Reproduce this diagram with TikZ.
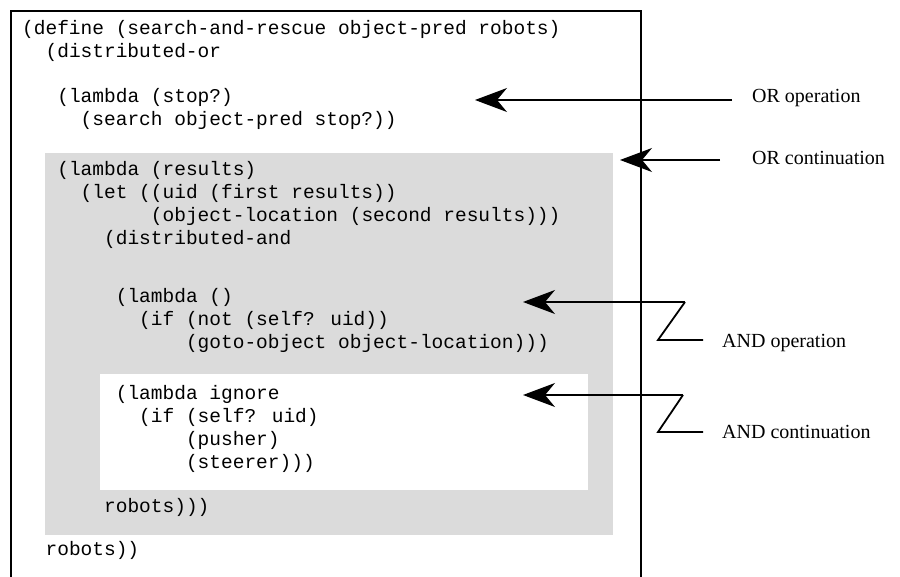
\documentclass[tikz,border=0pt]{standalone}
\usepackage{fontspec}
\setmainfont{Liberation Serif}
\newfontfamily\codefont{Liberation Mono}
\usetikzlibrary{arrows.meta}
\begin{document}
\begin{tikzpicture}[x=1pt,y=-1pt,
  code/.style={anchor=mid west,inner sep=0pt,font=\codefont\fontsize{19.5}{23}\selectfont},
  lbl/.style={anchor=mid west,inner sep=0pt,font=\fontsize{20}{24}\selectfont},
  bigarrow/.style={line width=1.2pt,-{Stealth[length=32pt,width=24pt,inset=10pt]}},
  zline/.style={line width=1.8pt},
  frame/.style={line width=2pt}]
\useasboundingbox (0,0) rectangle (900,577);
% shaded OR-continuation region and white AND-continuation region
\fill[black!14] (45,153) rectangle (613,535);
\fill[white] (100,374) rectangle (588,490);
% code
\node[code] (l1) at (22,32) {(define (search-and-rescue object-pred robots)};
\node[code] (l2) at (45.4,55) {(distributed-or};
\node[code] (l3) at (57.1,100) {(lambda (stop?)};
\node[code] (l4) at (80.5,123) {(search object-pred stop?))};
\node[code] (l5) at (57.1,173) {(lambda (results)};
\node[code] (l6) at (80.5,196) {(let ((uid (first results))};
\node[code] (l7) at (150.7,219) {(object-location (second results)))};
\node[code] (l8) at (103.9,242) {(distributed-and};
\node[code] (l9) at (115.6,300) {(lambda ()};
\node[code] (l10) at (139,323) {(if (not (self? uid))};
\node[code] (l11) at (185.8,346) {(goto-object object-location)))};
\node[code] (l12) at (115.6,397) {(lambda ignore};
\node[code] (l13) at (139,420) {(if (self? uid)};
\node[code] (l14) at (185.8,443) {(pusher)};
\node[code] (l15) at (185.8,466) {(steerer)))};
\node[code] (l16) at (103.9,510) {robots)))};
\node[code] (l17) at (45.4,553) {robots))};
% labels
\node[lbl] (orop) at (752,100) {OR operation};
\node[lbl] (orcont) at (752,162) {OR continuation};
\node[lbl] (andop) at (722,345) {AND operation};
\node[lbl] (andcont) at (722,436) {AND continuation};
% arrow coordinates
\coordinate (orop-tip) at (475,100);
\coordinate (orop-tail) at (732,100);
\coordinate (orcont-tip) at (620,160);
\coordinate (orcont-tail) at (720,160);
\coordinate (andop-tip) at (523,302);
\coordinate (andop-z1) at (685,302);
\coordinate (andop-z2) at (658,340);
\coordinate (andop-z3) at (703,340);
\coordinate (andcont-tip) at (523,395);
\coordinate (andcont-z1) at (683,395);
\coordinate (andcont-z2) at (658,432);
\coordinate (andcont-z3) at (703,432);
% arrows
\draw[bigarrow] (orop-tail) -- (orop-tip);
\draw[bigarrow] (orcont-tail) -- (orcont-tip);
\draw[bigarrow] (andop-z1) -- (andop-tip);
\draw[zline] (andop-z1) -- (andop-z2) -- (andop-z3);
\draw[bigarrow] (andcont-z1) -- (andcont-tip);
\draw[zline] (andcont-z1) -- (andcont-z2) -- (andcont-z3);
% frame (open at the bottom)
\draw[frame] (11,577) -- (11,11) -- (641,11) -- (641,577);
\end{tikzpicture}
\end{document}
